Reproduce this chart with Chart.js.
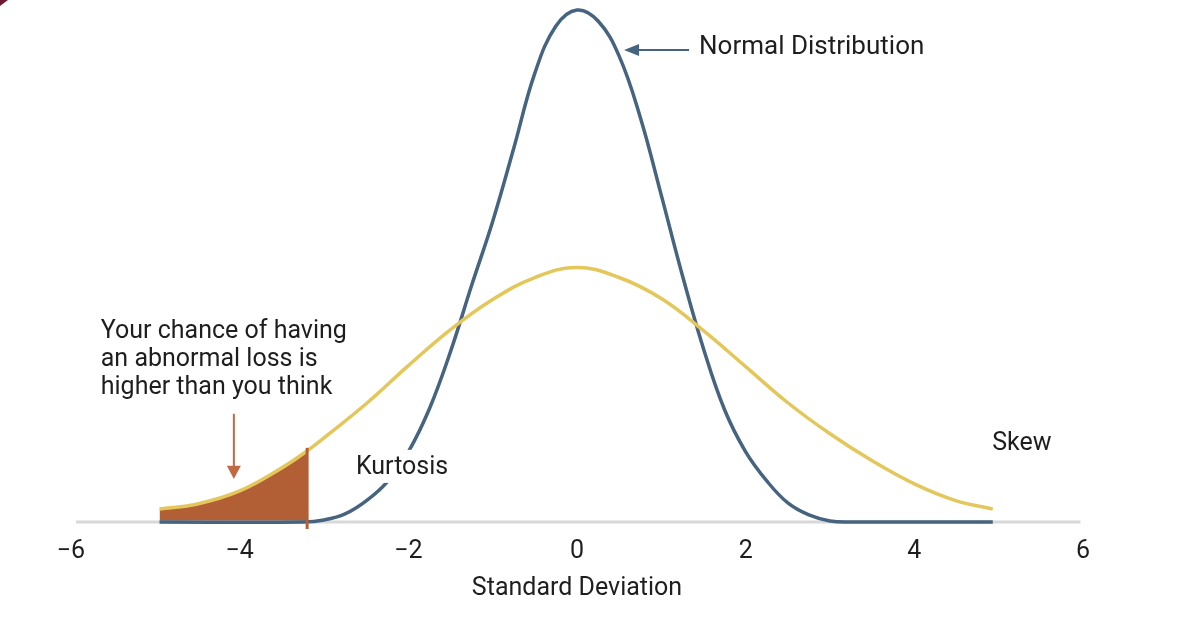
<!DOCTYPE html>
<html><head><meta charset="utf-8">
<script src="https://cdn.jsdelivr.net/npm/chart.js@4/dist/chart.umd.min.js"></script>
<style>html,body{margin:0;padding:0;background:#fff;} #wrap{width:1203px;height:623px;position:relative;}</style>
</head><body><div id="wrap"><canvas id="c"></canvas></div>
<script>
// ---- data ----
const xTicks = [-6, -4, -2, 0, 2, 4, 6];
const tickLabels = ['−6', '−4', '−2', '0', '2', '4', '6'];
const axisTitle = 'Standard Deviation';

const normalX = [-4.95, -3.25, -3, -2.75, -2.5, -2.25, -2, -1.75, -1.5, -1.25, -1, -0.75, -0.5, -0.25, 0, 0.25, 0.5, 0.75, 1, 1.25, 1.5, 1.75, 2, 2.25, 2.5, 2.75, 3, 3.25, 4.93];
const normalY = [0, 0, 2, 8, 21, 40, 70, 113, 170, 236, 300, 373, 448, 495, 511, 500, 465, 404, 326, 246, 173, 112, 70, 41, 19, 7, 1, 0, 0];

const skewX = [-4.95, -4.5, -4, -3.5, -3.2, -3, -2.5, -2, -1.5, -1, -0.5, 0, 0.5, 1, 1.5, 2, 2.5, 3, 3.5, 4, 4.5, 4.93];
const skewY = [13, 18, 31, 54, 71, 84, 118, 156, 192, 222, 244, 254, 244, 223, 191, 155, 119, 88, 61, 38, 21, 13];

const tailCut = -3.2;               // shaded tail ends here
const tailMarkY = [-7, 74];          // vertical marker extent
const baselineX = [-5.94, 5.97];

const notes = {
  normal: 'Normal Distribution',
  tail: ['Your chance of having', 'an abnormal loss is', 'higher than you think'],
  kurtosis: 'Kurtosis',
  skew: 'Skew'
};

// ---- build datasets ----
const pts = (xs, ys) => xs.map((x, i) => ({x, y: ys[i]}));
const normalPts = pts(normalX, normalY);
const skewPts = pts(skewX, skewY);
const tailPts = skewPts.filter(p => p.x <= tailCut);

const BLUE = '#46637f', YELLOW = '#e4c75b', RUST = '#b35f36', ARROW = '#c06a43', TEXT = '#1e1e1e';
const FONT = 'Roboto, "Liberation Sans", sans-serif';

const annot = {
  id: 'annot',
  afterDatasetsDraw(chart) {
    const {ctx, scales: {x, y}} = chart;
    const X = v => x.getPixelForValue(v), Y = v => y.getPixelForValue(v);
    ctx.save();
    // white box behind "Kurtosis"
    ctx.fillStyle = '#fff';
    ctx.fillRect(X(-2.69), Y(72), X(-1.435) - X(-2.69), Y(39) - Y(72));
    ctx.fillStyle = TEXT;
    ctx.font = '25px ' + FONT;
    ctx.textBaseline = 'alphabetic';
    ctx.textAlign = 'left';
    ctx.fillText(notes.kurtosis, X(-2.622), Y(48));
    ctx.fillText(notes.skew, X(4.923), Y(72));
    const tb = [184, 156, 128];
    notes.tail.forEach((t, i) => ctx.fillText(t, X(-5.647), Y(tb[i])));
    ctx.font = '26px ' + FONT;
    ctx.fillText(notes.normal, X(1.447), Y(467));
    // arrow to the normal curve
    ctx.strokeStyle = BLUE; ctx.fillStyle = BLUE; ctx.lineWidth = 2;
    const ay = Y(471);
    ctx.beginPath(); ctx.moveTo(X(1.329), ay); ctx.lineTo(X(0.62), ay); ctx.stroke();
    ctx.beginPath(); ctx.moveTo(X(0.558), ay); ctx.lineTo(X(0.558) + 15, ay - 6); ctx.lineTo(X(0.558) + 15, ay + 6); ctx.closePath(); ctx.fill();
    // arrow to the tail
    ctx.strokeStyle = ARROW; ctx.fillStyle = ARROW; ctx.lineWidth = 2;
    const ax = X(-4.069);
    ctx.beginPath(); ctx.moveTo(ax, Y(108)); ctx.lineTo(ax, Y(52)); ctx.stroke();
    ctx.beginPath(); ctx.moveTo(ax, Y(43)); ctx.lineTo(ax - 7, Y(56)); ctx.lineTo(ax + 7, Y(56)); ctx.closePath(); ctx.fill();
    ctx.restore();
  },
  afterDraw(chart) {
    const ctx = chart.ctx;
    ctx.save();
    ctx.fillStyle = '#6e1a33';
    ctx.beginPath(); ctx.moveTo(0, 0); ctx.lineTo(8, 0); ctx.lineTo(0, 6); ctx.closePath(); ctx.fill();
    ctx.restore();
  }
};

new Chart(document.getElementById('c'), {
  type: 'line',
  data: {
    datasets: [
      {data: [{x: tailCut, y: tailMarkY[0]}, {x: tailCut, y: tailMarkY[1]}], borderColor: RUST, borderWidth: 3, pointRadius: 0, order: 1},
      {data: skewPts, borderColor: YELLOW, borderWidth: 3.5, pointRadius: 0, tension: 0.4, order: 2},
      {data: normalPts, borderColor: BLUE, borderWidth: 3.5, pointRadius: 0, tension: 0.4, order: 3},
      {data: baselineX.map(v => ({x: v, y: 0})), borderColor: '#d8d8d8', borderWidth: 3, pointRadius: 0, order: 4},
      {data: tailPts, borderWidth: 0, borderColor: 'rgba(0,0,0,0)', backgroundColor: RUST, fill: 'origin', pointRadius: 0, tension: 0.4, order: 5}
    ]
  },
  options: {
    responsive: true, maintainAspectRatio: false, animation: false,
    events: [],
    layout: {padding: {left: 71, right: 120, top: 5, bottom: 19}},
    plugins: {legend: {display: false}, tooltip: {enabled: false}},
    scales: {
      x: {
        type: 'linear', min: -6, max: 6,
        afterBuildTicks: s => { s.ticks = xTicks.map(v => ({value: v})); },
        ticks: {callback: v => tickLabels[xTicks.indexOf(v)], font: {family: FONT, size: 25}, color: TEXT, padding: 3, maxRotation: 0},
        grid: {display: false, drawTicks: false},
        border: {display: false},
        title: {display: true, text: axisTitle, font: {family: FONT, size: 25}, color: TEXT, padding: {top: 4, bottom: 0}}
      },
      y: {min: -12, max: 516, display: false}
    }
  },
  plugins: [annot]
});
</script>
</body></html>
